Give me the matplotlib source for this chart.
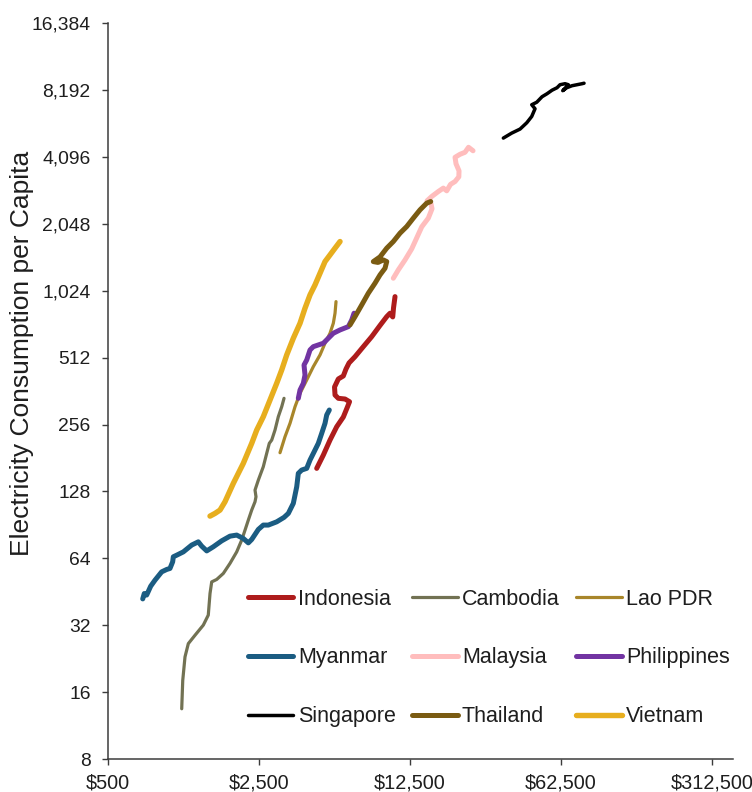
import matplotlib
matplotlib.use("Agg")
import matplotlib.pyplot as plt
from matplotlib.ticker import FixedLocator, FixedFormatter, NullLocator

plt.rcParams['font.family'] = ['Liberation Sans', 'DejaVu Sans']

# GDP per capita (US$) and electricity consumption per capita (kWh) paths
indonesia_gdp = [4624, 4962, 5329, 5724, 6141, 6388, 6561, 6253, 5822, 5621, 5591, 5822,
                 6141, 6320, 6526, 6957, 7600, 8312, 9080, 9753, 10102, 10397, 10485, 10654]
indonesia_elec = [162.6, 186.6, 218.0, 250.3, 276.7, 303.8, 324.2, 333.4, 335.8, 347.5, 377.6, 410.3,
                  423.2, 455.1, 484.2, 516.8, 573.2, 635.9, 714.1, 782.2, 810.3, 779.8, 855.9, 962.4]

cambodia_gdp = [1097, 1109, 1136, 1177, 1264, 1381, 1456, 1483, 1510, 1593, 1709, 1835, 1971, 2079, 2154,
                2231, 2313, 2396, 2421, 2396, 2482, 2617, 2714, 2790, 2863, 2965, 3071, 3185, 3264]
cambodia_elec = [13.5, 18.1, 23.1, 26.5, 28.9, 32.1, 35.6, 44.5, 50.2, 51.5, 54.8, 60.8, 68.5, 77.4, 85.8,
                 95.2, 105.6, 115.1, 121.2, 129.9, 144.0, 165.4, 190.0, 210.7, 218.0, 241.8, 277.6, 307.9, 335.8]

lao_gdp = [3127, 3298, 3479, 3670, 3871, 4157, 4460, 4790, 5052, 5329, 5520, 5621, 5681]
lao_elec = [191.2, 225.6, 259.2, 307.9, 353.7, 406.0, 466.1, 526.1, 593.8, 658.6, 730.5, 810.3, 913.7]

myanmar_gdp = [724, 736, 755, 788, 825, 886, 935, 968, 996, 1003, 1040, 1116, 1220, 1309, 1357, 1432,
               1536, 1680, 1835, 1971, 2115, 2231, 2313, 2482, 2617, 2761, 3019, 3264, 3417, 3604,
               3737, 3801, 3941, 4157, 4306, 4541, 4704, 4877, 5052, 5144, 5289]
myanmar_elec = [42.1, 44.5, 43.8, 48.0, 51.1, 55.7, 57.1, 57.7, 61.8, 65.1, 66.2, 68.5, 73.5, 76.0, 72.7,
                69.2, 72.2, 76.8, 80.6, 81.5, 78.7, 75.2, 77.9, 86.4, 90.4, 90.4, 93.5, 97.9, 102.0,
                113.2, 134.4, 154.4, 159.8, 162.6, 177.2, 196.6, 210.7, 233.7, 259.2, 282.5, 297.5]

malaysia_gdp = [10463, 11035, 11853, 12730, 13427, 14162, 15195, 15805, 15637, 14985, 15755, 16904,
                17829, 18487, 19250, 20197, 21032, 21076, 20414, 20197, 21303, 22469, 23322, 24469]
malaysia_elec = [1164, 1269, 1407, 1578, 1768, 1981, 2169, 2388, 2515, 2595, 2713, 2857,
                 2959, 2877, 3077, 3168, 3326, 3539, 3806, 4071, 4200, 4288, 4516, 4356]

philippines_gdp = [3801, 3871, 4009, 4082, 4039, 4157, 4306, 4460, 4704, 4962, 5233, 5520,
                   5929, 6478, 6717, 6883]
philippines_elec = [335.8, 366.0, 392.3, 427.5, 474.2, 499.4, 553.9, 573.2, 583.5, 593.8, 625.4, 658.6,
                    681.6, 705.3, 755.9, 810.3]

singapore_gdp = [33798, 36967, 40392, 43383, 45740, 47380, 45740, 48248, 51055, 53848, 56797,
                 59905, 61852, 65236, 67583, 63659, 66429, 70294, 74142, 78201, 79884]
singapore_elec = [4967, 5231, 5453, 5821, 6214, 6730, 7015, 7199, 7621, 7862, 8153,
                  8366, 8631, 8721, 8631, 8114, 8366, 8542, 8631, 8721, 8765]

thailand_gdp = [6596, 6957, 7472, 8016, 8609, 9080, 9577, 9753, 9406, 8889, 8454, 9080, 9753,
                10463, 11237, 12070, 12950, 13908, 14936, 15588]
thailand_elec = [717.8, 782.2, 883.0, 996.8, 1106, 1205, 1291, 1383, 1407, 1371, 1383, 1452, 1589,
                 1702, 1856, 1988, 2169, 2363, 2533, 2575]

vietnam_gdp = [1483, 1564, 1650, 1740, 1901, 2115, 2313, 2440, 2617, 2811, 3019, 3185, 3359, 3604,
               3871, 4082, 4306, 4541, 4790, 5052, 5329, 5621, 5929]
vietnam_elec = [99.2, 102.0, 105.6, 115.1, 139.2, 171.3, 210.7, 241.8, 277.6, 330.0, 392.3, 450.6,
                526.1, 625.4, 730.5, 853.4, 979.5, 1086, 1226, 1383, 1482, 1589, 1702]

y_ticks = [8, 16, 32, 64, 128, 256, 512, 1024, 2048, 4096, 8192, 16384]
x_ticks = [500, 2500, 12500, 62500, 312500]

series = [
    ("Indonesia", indonesia_gdp, indonesia_elec, "#AE1C1C", 3.6),
    ("Cambodia", cambodia_gdp, cambodia_elec, "#727253", 2.3),
    ("Lao PDR", lao_gdp, lao_elec, "#A8862A", 2.3),
    ("Myanmar", myanmar_gdp, myanmar_elec, "#1B5C82", 3.6),
    ("Malaysia", malaysia_gdp, malaysia_elec, "#FFBDBD", 3.6),
    ("Philippines", philippines_gdp, philippines_elec, "#7234A2", 3.6),
    ("Singapore", singapore_gdp, singapore_elec, "#000000", 2.5),
    ("Thailand", thailand_gdp, thailand_elec, "#7A5B12", 3.6),
    ("Vietnam", vietnam_gdp, vietnam_elec, "#E7AE1E", 3.9),
]

text_color = "#1e1e1e"
axis_color = "#3c3c3c"

fig = plt.figure(figsize=(7.52, 7.92), dpi=100)
ax = fig.add_axes([108 / 752, 32.7 / 792, 625 / 752, 736.5 / 792])

handles = {}
for name, gdp, elec, color, lw in series:
    (ln,) = ax.plot(gdp, elec, color=color, lw=lw, label=name,
                    solid_capstyle="round", solid_joinstyle="round")
    handles[name] = ln

ax.set_xscale("log")
ax.set_yscale("log")
ax.set_xlim(500, 390800)
ax.set_ylim(8, 16384)

ax.xaxis.set_major_locator(FixedLocator(x_ticks))
ax.xaxis.set_major_formatter(FixedFormatter([f"${v:,}" for v in x_ticks]))
ax.xaxis.set_minor_locator(NullLocator())
ax.yaxis.set_major_locator(FixedLocator(y_ticks))
ax.yaxis.set_major_formatter(FixedFormatter([f"{v:,}" for v in y_ticks]))
ax.yaxis.set_minor_locator(NullLocator())

for side in ("top", "right"):
    ax.spines[side].set_visible(False)
for side in ("left", "bottom"):
    ax.spines[side].set_color(axis_color)
    ax.spines[side].set_linewidth(1.1)

ax.tick_params(axis="both", which="major", direction="out", length=4.6, width=1.0,
               color=axis_color, labelcolor=text_color)
ax.tick_params(axis="y", labelsize=13.9, pad=8.0)
ax.tick_params(axis="x", labelsize=14.3, pad=5.5)

fig.text(22 / 752, 1 - 353 / 792, "Electricity Consumption per Capita", rotation=90,
         ha="center", va="center", fontsize=19, color=text_color)

order = ["Indonesia", "Myanmar", "Singapore",
         "Cambodia", "Malaysia", "Thailand",
         "Lao PDR", "Philippines", "Vietnam"]
fig.legend([handles[n] for n in order], order, loc="center",
           bbox_to_anchor=(489 / 752, 1 - 658 / 792), ncol=3, frameon=False,
           fontsize=15.5, handlelength=2.1, handletextpad=0.2, columnspacing=0.78,
           labelspacing=1.75, borderpad=0, borderaxespad=0, labelcolor=text_color)

fig.savefig("out.png", dpi=100)
